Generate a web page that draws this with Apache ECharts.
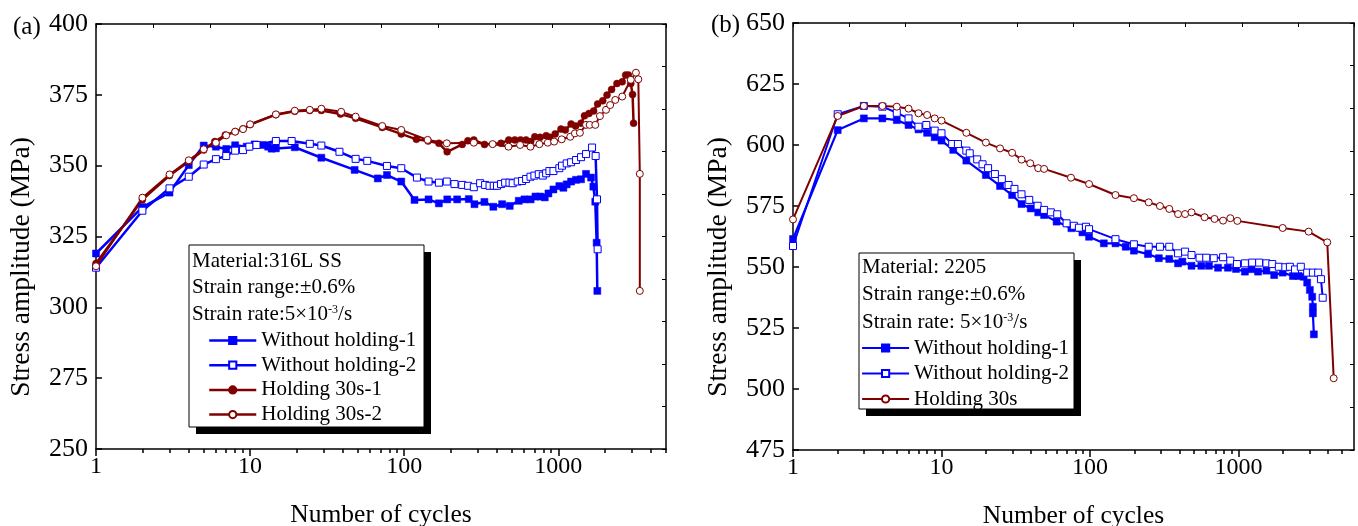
<!DOCTYPE html>
<html><head><meta charset="utf-8">
<script src="https://cdn.jsdelivr.net/npm/echarts@6/dist/echarts.min.js"></script>
<style>html,body{margin:0;padding:0;background:#fff}#c{width:1358px;height:526px}</style>
</head><body><div id="c"></div>
<script>
// ---------- data ----------
const xMajorTicks = [1, 10, 100, 1000];
const xMinorTicks = [2,3,4,5,6,7,8,9,20,30,40,50,60,70,80,90,200,300,400,500,600,700,800,900,2000,3000,4000,5000];

// Panel (a): 316L SS  [cycles, stress amplitude MPa]
const a_without1 = [[1,319],[2,335.4],[3,340.5],[4,350.2],[5,357.1],[6,356.7],[7,355.9],[8,357.2],[9.5,356.7],[10.7,357.5],[12.1,357.3],[13.1,356.7],[13.8,356],[14.7,356.1],[19.5,356.5],[29,352.8],[47.7,348.5],[67.4,345.5],[77.3,346.7],[95.7,344.4],[116.7,337.9],[143.9,338.1],[167.9,336.7],[190.3,338.1],[220.6,338.1],[262.5,338.2],[285.8,336.4],[331.6,337.2],[379,335.5],[432,336.4],[484,335.8],[554,337.6],[603,338.1],[662,338.1],[711,339.1],[762,339.1],[817,338.8],[863,340.2],[930,341.6],[1016,342.8],[1079,342.2],[1134,343.4],[1211,344.4],[1304,345],[1405,345.2],[1514,347.1],[1632,345.8],[1688,342.6],[1738,337.3],[1774,322.8],[1792,305.8]];
const a_without2 = [[1,314],[2,334.1],[3,342],[4,346.1],[5,350.4],[6,352.3],[7,353.4],[8,355.3],[9,355.5],[9.9,356.7],[11,357.3],[14.7,358.7],[18.6,358.7],[24.4,357.7],[29,357.1],[38,354.9],[48.4,352.4],[57.6,351.7],[77.3,349.9],[95.7,349.1],[121,345.8],[143.9,344.4],[168,344],[189,344.4],[212,343.5],[238,343.2],[260,342.9],[283,342.4],[311,343.8],[335,343.2],[358,342.9],[381,342.9],[400,342.9],[425,343.5],[452,344],[482,344],[506,343.8],[545,344.4],[582,344.6],[618,345.3],[660,346.1],[700,346.5],[747,347],[793,346.5],[834,347.3],[876,348.1],[930,348.1],[1016,349.1],[1057,350],[1134,350.8],[1211,351.2],[1304,352],[1405,353],[1514,354.1],[1656,356.4],[1747,353.4],[1783,338.1],[1800,320.5]];
const a_hold1 = [[1,315.5],[2,338],[3,346.5],[4,351.5],[5,355.5],[5.9,358.5],[6.9,360.8],[8,362],[9,363],[10,364.5],[14.7,368],[19.5,369.2],[24.4,369.5],[29,369.5],[38.6,368.2],[48.4,366.7],[72,363.5],[95.7,361.2],[120,359.3],[143,358.7],[168,357.9],[190,354.9],[238,357.5],[259,358.8],[283,359.1],[332,357.5],[425,357.9],[477,359.1],[522,359.1],[569,359.1],[618,359.1],[662,358.5],[704,360.2],[762,360],[834,360.6],[880,360],[954,361.2],[1041,362.9],[1111,362.6],[1211,364.7],[1295,364],[1405,365],[1479,367.6],[1581,368.4],[1696,369.3],[1800,371.8],[1943,372.9],[2071,374.9],[2217,376.9],[2403,379],[2600,379.6],[2736,382],[2852,382],[2955,379],[3034,375.1],[3080,365]];
const a_hold2 = [[1,314.5],[2,338.7],[3,346.9],[4,351.9],[5,355.8],[6,358.1],[7,360.7],[8,362],[9,362.9],[10,364.6],[14.7,368.1],[19.5,369.4],[24.4,369.7],[29,370.1],[39,369],[48.4,367.3],[72,364],[95.7,362.6],[142,359.1],[189,357.9],[283,358.1],[375,357.6],[475,356.7],[565,357.3],[660,356.7],[754,357.6],[855,358.1],[940,358.5],[1052,359.3],[1196,360.2],[1282,361.4],[1381,361.6],[1514,364.4],[1598,364.4],[1738,364.4],[1863,367.5],[2040,369.7],[2170,371.4],[2342,373.2],[2600,374.4],[2955,380.3],[3190,382.8],[3306,380.5],[3381,347.1],[3381,305.8]];

// Panel (b): 2205
const b_without1 = [[1,561.5],[2,606.1],[3,610.9],[4,610.9],[5,610.2],[6,608.2],[7,606.4],[8,605],[9,603.2],[10,601.8],[12,598],[14.7,593.6],[19.9,587.7],[24.8,583.2],[29.9,579.5],[34.6,575.8],[39.9,574],[44.8,572.4],[49.1,571.3],[59.6,568.6],[75,565.9],[89,564.2],[98.6,562.4],[124,559.7],[148.5,559.7],[174,558.3],[197.6,556.7],[246,555.3],[291,553.6],[342,553.3],[392,551.5],[419,552.2],[483,550.5],[562,550.5],[633,550.5],[729,549.7],[849,549.7],[962,549.2],[1105,548.1],[1224,549.1],[1356,548.1],[1543,548.5],[1740,546.7],[1986,547.7],[2328,546.3],[2536,546.3],[2747,546],[2903,543.6],[3026,540.6],[3138,537.8],[3171,533.7],[3171,531],[3220,522.4]];
const b_without2 = [[1,558.6],[2,612.6],[3,616],[4,615.7],[5,613.2],[6,610.9],[7,607.5],[7.9,608.2],[9,605.9],[10,604.8],[11.8,600.4],[12.9,600.4],[14.7,597.7],[15.5,596.6],[17.4,594.1],[18.9,592.1],[20.6,590.5],[22.9,588.1],[25.5,586],[28.3,583.6],[31,582],[34.6,579.8],[39,577.5],[44.4,575.1],[49.1,573.4],[54.5,572.4],[60.2,571.6],[69.6,567.9],[77.9,566.9],[84.2,566.1],[94,566.5],[98.6,565.5],[148.5,561.4],[197.6,559.3],[248.6,558.3],[296,558.3],[342,558.3],[392,555.6],[437,556.3],[483,554.9],[547,553.8],[607,553.8],[682,553.6],[788,554],[881,552.6],[977,551.2],[1105,551.5],[1237,551.8],[1378,551.8],[1543,551.5],[1690,551.2],[1870,550.1],[2070,549.9],[2220,550.1],[2405,549],[2630,550.1],[2903,547.7],[3171,547.7],[3443,547.7],[3594,545],[3693,537.4]];
const b_hold = [[1,569.5],[2,611.9],[3,616],[4,616],[5,615.7],[6,614.9],[7,613],[8,612.3],[9,610.9],[10,610],[14.7,605],[19.9,601],[24.8,598.6],[29.9,596.8],[34.6,594],[39.6,592.5],[44.8,590.5],[49.1,590.2],[74.5,586.6],[98.6,584],[148.5,579.5],[197.6,578.2],[248.6,576.5],[296,575],[342,573.8],[392,571.7],[437,571.7],[483,572.4],[591,570.4],[690,569.7],[788,569],[881,570],[983,568.9],[1986,566],[2968,564.5],[3963,560.1],[4380,504.4]];

const namesA = ['Without holding-1', 'Without holding-2', 'Holding 30s-1', 'Holding 30s-2'];
const namesB = ['Without holding-1', 'Without holding-2', 'Holding 30s'];
const infoA = ['Material:316L SS', 'Strain range:\u00b10.6%', ['Strain rate:5\u00d710', '-3', '/s']];
const infoB = ['Material: 2205', 'Strain range:\u00b10.6%', ['Strain rate: 5\u00d710', '-3', '/s']];
const yTitle = 'Stress amplitude (MPa)';
const xTitle = 'Number of cycles';

// ---------- styling ----------
const FONT = 'Liberation Serif';
const BLUE = '#0000ff';
const RED = '#800000';
const grids = [
  {left: 96, top: 24, width: 570, height: 425, outerBoundsMode: 'none', containLabel: false},
  {left: 793, top: 23, width: 561, height: 427, outerBoundsMode: 'none', containLabel: false}
];
const blk = {color: '#000', width: 1.5};

function xAxesFor(gi, xmax) {
  return [
    {type: 'log', logBase: 10, gridIndex: gi, min: 1, max: xmax, position: 'bottom',
     axisLine: {show: true, onZero: false, lineStyle: blk},
     axisTick: {show: true, inside: false, length: 7, customValues: xMajorTicks, lineStyle: blk},
     axisLabel: {show: true, customValues: xMajorTicks, fontFamily: FONT, fontSize: 24, color: '#000', margin: 6,
                 formatter: function (v) { return String(Math.round(v)); }},
     splitLine: {show: false}, minorTick: {show: false},
     name: xTitle, nameLocation: 'middle', nameGap: 53,
     nameTextStyle: {fontFamily: FONT, fontSize: 25.5, color: '#000'}},
    {type: 'log', logBase: 10, gridIndex: gi, min: 1, max: xmax, position: 'bottom',
     axisLine: {show: false, onZero: false},
     axisTick: {show: true, inside: false, length: 4, customValues: xMinorTicks, lineStyle: blk},
     axisLabel: {show: false}, splitLine: {show: false}},
    {type: 'value', gridIndex: gi, min: 0, max: 10, interval: 1, position: 'top',
     axisLine: {show: true, onZero: false, lineStyle: blk},
     axisTick: {show: true, inside: true, length: 4, lineStyle: {color: '#000', width: 1}},
     axisLabel: {show: false}, splitLine: {show: false}}
  ];
}
function yAxesFor(gi, ymin, ymax) {
  return [
    {type: 'value', gridIndex: gi, min: ymin, max: ymax, interval: 25, position: 'left',
     axisLine: {show: true, onZero: false, lineStyle: blk},
     axisTick: {show: true, inside: true, length: 6, lineStyle: blk},
     axisLabel: {fontFamily: FONT, fontSize: 26, color: '#000', margin: 8},
     splitLine: {show: false}},
    {type: 'value', gridIndex: gi, min: 0, max: 10, interval: 1, position: 'right',
     axisLine: {show: true, onZero: false, lineStyle: blk},
     axisTick: {show: true, inside: true, length: 4, lineStyle: {color: '#000', width: 1}},
     axisLabel: {show: false}, splitLine: {show: false}}
  ];
}

function mkSeries(name, data, gi, color, symbol, filled, lw) {
  return {
    type: 'line', name: name, data: data,
    xAxisIndex: gi * 3, yAxisIndex: gi * 2,
    symbol: symbol, symbolSize: 7, showSymbol: true, showAllSymbol: true,
    lineStyle: {color: color, width: lw},
    itemStyle: filled ? {color: color, borderColor: color, borderWidth: 0.5}
                      : {color: '#ffffff', borderColor: color, borderWidth: 1},
    emphasis: {disabled: true}, z: 3
  };
}

const series = [
  mkSeries(namesA[0], a_without1, 0, BLUE, 'rect', true, 2.5),
  mkSeries(namesA[1], a_without2, 0, BLUE, 'rect', false, 2.5),
  mkSeries(namesA[2], a_hold1, 0, RED, 'circle', true, 2.5),
  mkSeries(namesA[3], a_hold2, 0, RED, 'circle', false, 2),
  mkSeries(namesB[0], b_without1, 1, BLUE, 'rect', true, 2.2),
  mkSeries(namesB[1], b_without2, 1, BLUE, 'rect', false, 2),
  mkSeries(namesB[2], b_hold, 1, RED, 'circle', false, 2)
];

function infoBox(x, y, w, h, lines, tx, ty, dy) {
  const els = [
    {type: 'rect', shape: {x: x + 7, y: y + 7, width: w, height: h}, style: {fill: '#000'}, z: 10},
    {type: 'rect', shape: {x: x, y: y, width: w, height: h}, style: {fill: '#fff', stroke: '#000', lineWidth: 1}, z: 11}
  ];
  lines.forEach(function (ln, i) {
    let st;
    if (Array.isArray(ln)) {
      st = {text: '{n|' + ln[0] + '}{s|' + ln[1] + '}{n|' + ln[2] + '}',
            rich: {n: {fontFamily: FONT, fontSize: 21, fill: '#000', verticalAlign: 'bottom'},
                   s: {fontFamily: FONT, fontSize: 12, fill: '#000', verticalAlign: 'top'}}};
    } else {
      st = {text: ln, fontFamily: FONT, fontSize: 21, fill: '#000'};
    }
    st.x = tx; st.y = ty + i * dy; st.verticalAlign = 'middle'; st.align = 'left';
    els.push({type: 'text', style: st, z: 12});
  });
  return els;
}

function yTitleEl(x, y) {
  return {type: 'text', x: x, y: y, rotation: Math.PI / 2,
          style: {text: yTitle, fontFamily: FONT, fontSize: 27.5, fill: '#000', align: 'center', verticalAlign: 'middle'}};
}

const legendCommon = {
  orient: 'vertical', selectedMode: false, padding: 0, itemWidth: 47, itemHeight: 9,
  textStyle: {fontFamily: FONT, fontSize: 21, color: '#000'}, z: 20
};

const option = {
  animation: false,
  backgroundColor: '#fff',
  grid: grids,
  xAxis: xAxesFor(0, 5000).concat(xAxesFor(1, 6000)),
  yAxis: yAxesFor(0, 250, 400).concat(yAxesFor(1, 475, 650)),
  legend: [
    Object.assign({}, legendCommon, {data: namesA, left: 208, top: 330, itemGap: 3.7, lineStyle: {width: 2.5}}),
    Object.assign({}, legendCommon, {data: namesB, left: 861, top: 337.5, itemGap: 4.5, lineStyle: {width: 2.2}})
  ],
  graphic: [
    {type: 'text', style: {text: '(a)', x: 13, y: 27, fontFamily: FONT, fontSize: 25, fill: '#000', verticalAlign: 'middle'}},
    {type: 'text', style: {text: '(b)', x: 711, y: 25, fontFamily: FONT, fontSize: 25, fill: '#000', verticalAlign: 'middle'}},
    yTitleEl(22, 267),
    yTitleEl(719, 267)
  ].concat(infoBox(189, 245, 235, 182, infoA, 192, 261, 26.5))
   .concat(infoBox(859, 253, 215, 156, infoB, 862, 267, 27.5)),
  series: series
};

const chart = echarts.init(document.getElementById('c'), null, {renderer: 'canvas'});
chart.setOption(option);
</script>
</body></html>
